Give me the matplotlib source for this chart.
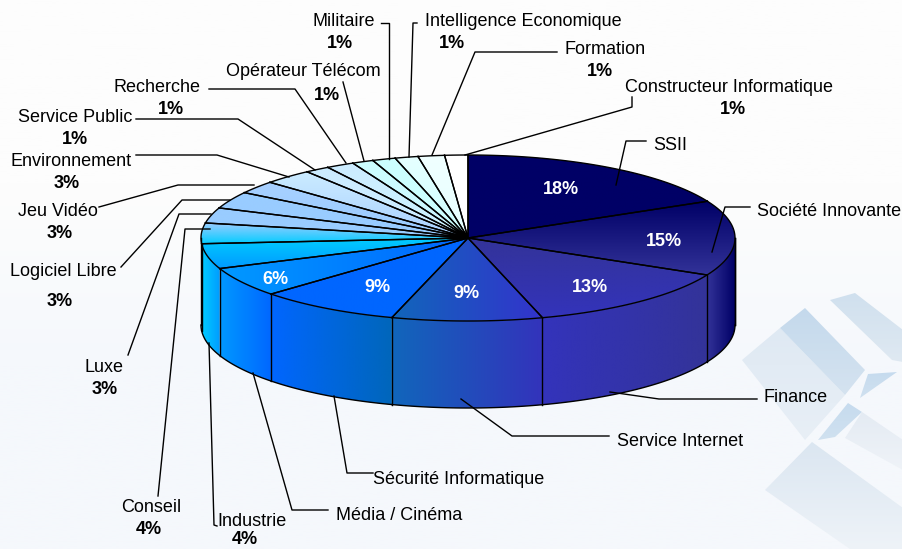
import numpy as np
import matplotlib
matplotlib.use('Agg')
import matplotlib.pyplot as plt
from matplotlib.colors import LinearSegmentedColormap
from matplotlib.patches import Polygon

plt.rcParams['font.family'] = ['Liberation Sans', 'DejaVu Sans']

# donnees
categories = ['SSII', 'Société Innovante', 'Finance', 'Service Internet', 'Sécurité Informatique',
              'Média / Cinéma', 'Industrie', 'Conseil', 'Luxe', 'Logiciel Libre', 'Jeu Vidéo',
              'Environnement', 'Service Public', 'Recherche', 'Opérateur Télécom', 'Militaire',
              'Intelligence Economique', 'Formation', 'Constructeur Informatique']
shares = [17.7, 14.65, 13.15, 9.1, 8.6, 5.8, 4.9, 4.0, 3.0, 3.3, 2.5, 3.0, 1.5, 1.7, 1.3, 1.4, 1.4, 1.6, 1.4]
pct_labels = ['18%', '15%', '13%', '9%', '9%', '6%', '4%', '4%', '3%', '3%', '3%', '3%',
              '1%', '1%', '1%', '1%', '1%', '1%', '1%']

# couleurs : dessus (debut, fin, sens) et paroi (gauche, droite)
top_colors = [('#000066', '#000066', 'v'), ('#000066', '#333399', 'v'), ('#333399', '#3333bb', 'v'),
              ('#1166bb', '#3333cc', 'h'), ('#0066ff', '#0066ff', 'h'), ('#0099ff', '#0066ff', 'h'),
              ('#00ccff', '#0099ff', 'v'), ('#99ccff', '#00ccff', 'v'), ('#99ccff', '#99ccff', 'v'),
              ('#99ccff', '#99ccff', 'v'), ('#a8d0ff', '#99ccff', 'v'), ('#ccecff', '#a8d0ff', 'v'),
              ('#ccecff', '#ccecff', 'v'), ('#ccecff', '#ccf4ff', 'v'), ('#ccffff', '#ccf4ff', 'v'),
              ('#ccffff', '#ccffff', 'v'), ('#e6ffff', '#ccffff', 'v'), ('#f0ffff', '#e6ffff', 'v'),
              ('#ffffff', '#ffffff', 'v')]
wall_colors = [('#000066', '#000066'), ('#333399', '#000066'), ('#3333bb', '#333399'),
               ('#1166bb', '#3333bb'), ('#0066ff', '#0066bb'), ('#0099ff', '#0066ff'),
               ('#00ccff', '#0099ff'), ('#00ccff', '#00ccff')] + [('#99ccff', '#99ccff')] * 11

# mise en page des etiquettes (x, y du nom, x, y du pourcentage, trace du trait)
label_pos = {
    'SSII': ((670, 146), None, [(646, 141), (626, 141), (616, 185)]),
    'Société Innovante': ((829, 212), None, [(750, 207), (725, 207), (712, 252)]),
    'Finance': ((796, 397), None, [(757, 399), (659, 399), (610, 392)]),
    'Service Internet': ((680, 442), None, [(609, 436), (512, 436), (461, 399)]),
    'Sécurité Informatique': ((459, 479), None, [(373, 473), (347, 473), (334, 396)]),
    'Média / Cinéma': ((399, 515), None, [(328, 510), (292, 510), (253, 373)]),
    'Industrie': ((252, 522), (245, 540), [(217, 526), (214, 525), (209, 343)]),
    'Conseil': ((151, 508), (149, 530), [(158, 496), (185, 229), (210, 229)]),
    'Luxe': ((104, 368), (105, 390), [(128, 355), (179, 214), (211, 214)]),
    'Logiciel Libre': ((63, 272), (60, 302), [(121, 267), (182, 200), (230, 200)]),
    'Jeu Vidéo': ((58, 212), (60, 234), [(99, 207), (178, 185), (254, 185)]),
    'Environnement': ((71, 161), (67, 183), [(136, 155), (217, 155), (289, 177)]),
    'Service Public': ((75, 117), (75, 139), [(136, 119), (238, 119), (315, 170)]),
    'Recherche': ((157, 87), (171, 109), [(209, 89), (295, 89), (346, 163)]),
    'Opérateur Télécom': ((303, 71), (327, 95), [(343, 82), (364, 161)]),
    'Militaire': ((344, 21), (340, 43), [(381, 23), (389, 23), (389, 159)]),
    'Intelligence Economique': ((523, 21), (452, 43), [(417, 23), (413, 23), (409, 157)]),
    'Formation': ((605, 50), (600, 72), [(557, 52), (475, 52), (432, 155)]),
    'Constructeur Informatique': ((729, 87), (733, 109), [(632, 97), (632, 107), (465, 155)]),
}
inner_pos = [(561, 190), (664, 242), (590, 287), (466, 294), (377, 287), (275, 279)]

cx, cy, rx, ry, depth = 468, 238, 267, 83, 87

fig = plt.figure(figsize=(9.03, 5.49), dpi=100)
ax = fig.add_axes([0, 0, 1, 1])
ax.axis('off')


def rim(a, b, n=60):
    t = np.radians(np.linspace(a, b, n))
    return np.column_stack([cx + rx * np.sin(t), cy - ry * np.cos(t)])


def gradient_fill(pts, c1, c2, way, z):
    pts = np.asarray(pts, dtype=float)
    cmap = LinearSegmentedColormap.from_list('g', [c1, c2])
    x0, y0 = pts.min(axis=0)
    x1, y1 = pts.max(axis=0)
    g = np.linspace(0, 1, 256)
    g = g.reshape(1, -1) if way == 'h' else g.reshape(-1, 1)
    im = ax.imshow(g, cmap=cmap, extent=(x0, x1, y1, y0), aspect='auto', zorder=z, vmin=0, vmax=1)
    p = Polygon(pts, closed=True, facecolor='none', edgecolor='none', zorder=z)
    ax.add_patch(p)
    im.set_clip_path(p)


# fond
bg = LinearSegmentedColormap.from_list('bg', ['#fdfdfd', '#fdfdfd', '#f5f8fc', '#f5f8fc'])
ax.imshow(np.linspace(0, 1, 256).reshape(-1, 1), cmap=bg, extent=(0, 903, 549, 0), aspect='auto', zorder=0)

# decor en bas a droite
deco = [([(742, 360), (780, 328), (845, 395), (805, 440)], '#dfe9f3', '#e8eff6'),
        ([(780, 328), (805, 308), (865, 370), (845, 395)], '#c4d9ec', '#d5e3f0'),
        ([(830, 300), (855, 293), (903, 330), (903, 362), (892, 360)], '#d0e0ee', '#dfe9f2'),
        ([(868, 374), (897, 372), (860, 398)], '#c6dbee', '#d0e1f0'),
        ([(818, 440), (848, 403), (862, 412), (835, 437)], '#c6dbee', '#d0e1f0'),
        ([(765, 490), (812, 442), (903, 508), (903, 549), (850, 549)], '#dbe6f1', '#eef3f8'),
        ([(862, 412), (903, 440), (903, 470), (845, 438)], '#e4ebf3', '#eff3f8')]
for pts, c1, c2 in deco:
    gradient_fill(pts, c1, c2, 'v', 1)

edges = np.cumsum([0] + shares) / sum(shares) * 360

# parois
for i in range(len(shares)):
    a, b = max(edges[i], 90), min(edges[i + 1], 270)
    if a >= b:
        continue
    up = rim(a, b)
    down = up + [0, depth]
    pts = np.vstack([up, down[::-1]])
    gradient_fill(pts, wall_colors[i][0], wall_colors[i][1], 'h', 2)
    ax.plot(down[:, 0], down[:, 1], color='black', lw=1, zorder=4)
    ax.plot([up[0, 0], down[0, 0]], [up[0, 1], down[0, 1]], color='black', lw=1, zorder=4)
left = rim(270, 270, 2)
ax.plot([left[0, 0], left[0, 0]], [left[0, 1], left[0, 1] + depth], color='black', lw=1, zorder=4)
right = rim(90, 90, 2)
ax.plot([right[0, 0], right[0, 0]], [right[0, 1], right[0, 1] + depth], color='black', lw=1, zorder=4)

# dessus
for i in range(len(shares)):
    arc = rim(edges[i], edges[i + 1])
    pts = np.vstack([[cx, cy], arc])
    c1, c2, way = top_colors[i]
    gradient_fill(pts, c1, c2, way, 3)
    ax.plot(*zip(*np.vstack([arc[-1], [cx, cy], arc[0]])), color='black', lw=1, zorder=4)
    ax.plot(arc[:, 0], arc[:, 1], color='black', lw=1, zorder=4)

# pourcentages dans les parts
for i, (x, y) in enumerate(inner_pos):
    ax.text(x, y, pct_labels[i], color='white', fontsize=13, fontweight='bold',
            ha='center', va='center', zorder=6)

# etiquettes et traits
for i, name in enumerate(categories):
    pos, pct, line = label_pos[name]
    ax.plot(*zip(*line), color='black', lw=1, zorder=5)
    ax.text(pos[0], pos[1], name, color='black', fontsize=13, ha='center', va='center', zorder=6)
    if pct:
        ax.text(pct[0], pct[1], pct_labels[i], color='black', fontsize=13, fontweight='bold',
                ha='center', va='center', zorder=6)

ax.set_xlim(0, 903)
ax.set_ylim(549, 0)
fig.savefig('out.png', dpi=100)
